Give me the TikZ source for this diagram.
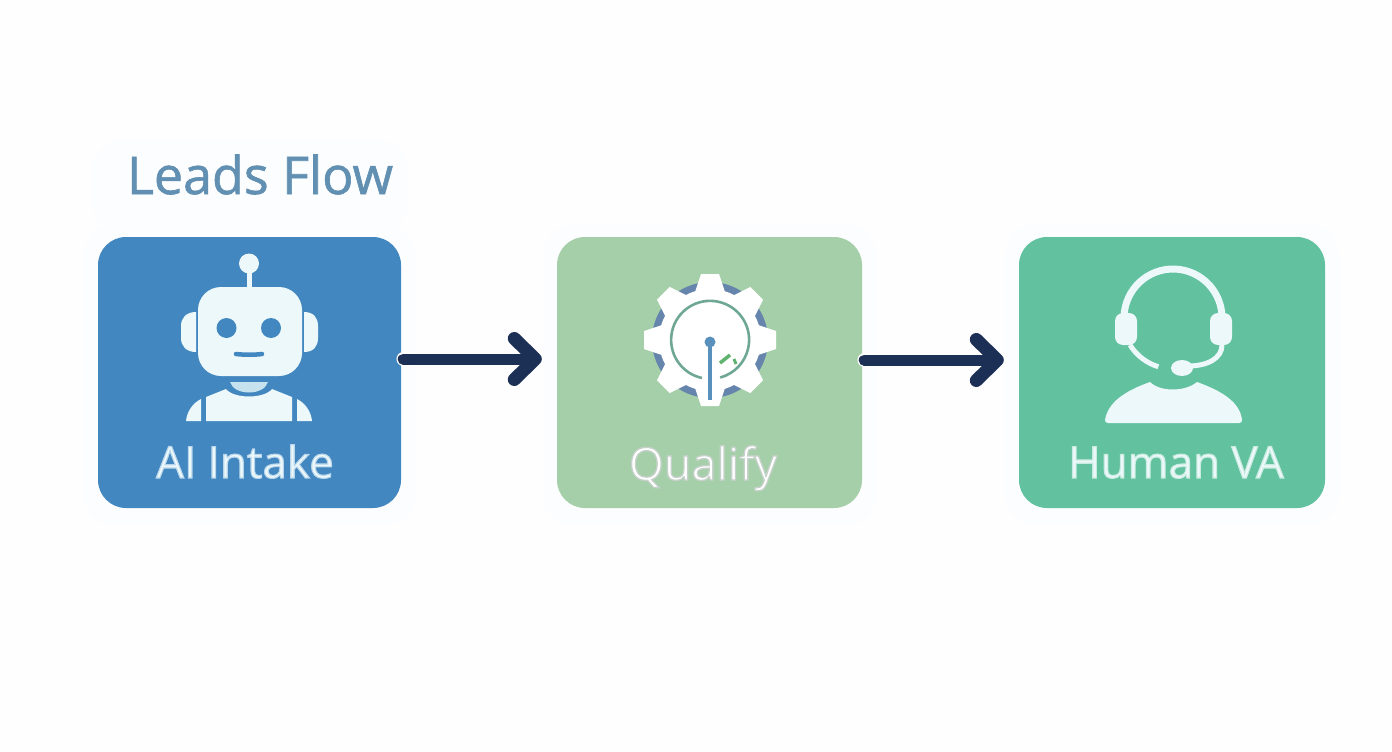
\documentclass[tikz,border=0pt]{standalone}
\usepackage{fontspec}
\setmainfont{Open Sans}
\usetikzlibrary{arrows.meta}
\definecolor{pagebg}{HTML}{FEFEFE}
\definecolor{halo}{HTML}{FBFDFE}
\definecolor{boxblue}{HTML}{4287BF}
\definecolor{boxsage}{HTML}{A5CFA8}
\definecolor{boxteal}{HTML}{62C19F}
\definecolor{icon}{HTML}{ECF8FA}
\definecolor{neck}{HTML}{C5E2EE}
\definecolor{navy}{HTML}{1C2F55}
\definecolor{titleblue}{HTML}{6190B2}
\definecolor{ring}{HTML}{6585AC}
\definecolor{dial}{HTML}{6FA795}
\definecolor{needle}{HTML}{5A90BC}
\definecolor{tick}{HTML}{5FB36E}
\newcommand{\outlined}[3]{\special{pdf:code q 2 Tr #3 w #1 RG}#2\special{pdf:code Q}}
\tikzset{
  x=1pt,y=-1pt,
  card/.style={draw=none,rounded corners=28pt,inner sep=0pt,minimum height=271pt},
  label/.style={text=icon,inner sep=0pt,anchor=base},
  flow/.style={draw=navy,line width=11pt,line cap=round,shorten >=15pt,
    -{Straight Barb[length=21pt,width=41pt,round,line width=13pt]}},
  halo box/.style={fill=halo,rounded corners=30pt,draw=none},
  flow halo/.style={draw=white,line width=13.5pt,line cap=round},
}
\begin{document}
\begin{tikzpicture}
\useasboundingbox (0,0) rectangle (1392,752);
\fill[pagebg] (0,0) rectangle (1392,752);
% soft halos
\fill[halo box] (92,140) rectangle (408,232);
\fill[halo box] (84,225) rectangle (415,525);
\fill[halo box] (543,225) rectangle (876,525);
\fill[halo box] (1005,225) rectangle (1339,525);
\node[inner sep=0pt,anchor=base,text=titleblue,font=\fontsize{52}{52}\selectfont] (title) at (260,194) {\outlined{0.38 0.56 0.70}{Leads Flow}{0.6}};
% cards
\node[card,fill=boxblue,minimum width=303pt] (ai) at (249.5,372.5) {};
\node[card,fill=boxsage,minimum width=305pt] (qualify) at (709.5,372.5) {};
\node[card,fill=boxteal,minimum width=306pt] (human) at (1172,372.5) {};
% connectors
\draw[flow halo] ([yshift=13.5pt,xshift=2pt]ai.east) -- ([yshift=13.5pt,xshift=12pt]ai.east);
\draw[flow halo] ([yshift=12.5pt,xshift=2pt]qualify.east) -- ([yshift=12.5pt,xshift=12pt]qualify.east);
\draw[flow] ([yshift=13.5pt,xshift=2pt]ai.east) -- ([yshift=13.5pt]qualify.west);
\draw[flow] ([yshift=12.5pt,xshift=2pt]qualify.east) -- ([yshift=12.5pt]human.west);
% robot
\fill[icon] (247,270) rectangle (252,288);
\fill[icon] (249,263.5) circle (10);
\fill[icon,rounded corners=23pt] (198,287) rectangle (302,376);
\fill[icon] (196,312) -- (196,352) .. controls (186,352) and (181,346) .. (181,338) -- (181,326) .. controls (181,318) and (186,312) .. (196,312) -- cycle;
\fill[icon] (304,312) -- (304,352) .. controls (314,352) and (318,346) .. (318,338) -- (318,326) .. controls (318,318) and (314,312) .. (304,312) -- cycle;
\fill[boxblue] (226.5,328) circle (10);
\fill[boxblue] (271,328) circle (10);
\draw[boxblue,line width=4.5pt,line cap=round] (236,354) .. controls (245,355) and (254,355) .. (262,354);
\fill[neck] (230,382) -- (268,382) .. controls (264,396) and (234,396) .. (230,382) -- cycle;
\fill[icon] (206,421) -- (206,397) -- (226,389) .. controls (234,399) and (264,399) .. (272,389) -- (292,397) -- (292,421) -- cycle;
\fill[icon] (201,399) -- (201,421) -- (186,421) .. controls (187,411) and (193,403) .. (201,399) -- cycle;
\fill[icon] (297,399) -- (297,421) -- (312,421) .. controls (311,411) and (305,403) .. (297,399) -- cycle;
\node[label,font=\fontsize{44}{44}\selectfont] (ailabel) at (245,478) {\outlined{0.72 0.84 0.92}{AI Intake}{1.1}};
% gear
\begin{scope}[shift={(710,340)}]
\fill[ring] (0,0) circle (58);
\foreach \a in {0,45,...,315}{
  \fill[white,rotate=\a] (-15,-48) -- (-9,-66) -- (9,-66) -- (15,-48) -- cycle;
}
\fill[white] (0,0) circle (51);
\draw[dial,line width=2.6pt] (-8,38) arc[start angle=102,end angle=435,radius=39];
\draw[needle,line width=4.5pt] (0,2) -- (0,60);
\fill[needle] (0,2) circle (5.5);
\draw[tick,line width=3.5pt] (10,23) -- (20,15);
\draw[tick,line width=3pt] (24,19) -- (26,24);
\end{scope}
\node[label,text=white,font=\fontsize{45}{45}\selectfont] (qlabel) at (703,480) {\outlined{0.78 0.82 0.80}{Qualify}{1.3}};
% headset
\draw[icon,line width=7pt] (1125.7,330.7) arc[start angle=165,end angle=375,radius=49];
\draw[icon,line width=5pt] (1130,345) arc[start angle=148,end angle=107,radius=51];
\fill[icon,rounded corners=8pt] (1115,313) rectangle (1137,345);
\fill[icon,rounded corners=8pt] (1210,313) rectangle (1232,345);
\draw[icon,line width=5pt] (1222,345) .. controls (1222,358) and (1208,366) .. (1188,366);
\fill[icon] (1182,368) ellipse (11 and 8);
\fill[icon] (1105,420) .. controls (1108,402) and (1125,391) .. (1150,382) .. controls (1160,392) and (1185,392) .. (1197,382) .. controls (1222,391) and (1240,402) .. (1242,420) .. controls (1242,422) and (1241,423) .. (1239,423) -- (1108,423) .. controls (1106,423) and (1105,422) .. (1105,420) -- cycle;
\node[label,font=\fontsize{44}{44}\selectfont] (hlabel) at (1176,478) {\outlined{0.78 0.92 0.87}{Human VA}{1.1}};
\end{tikzpicture}
\end{document}
